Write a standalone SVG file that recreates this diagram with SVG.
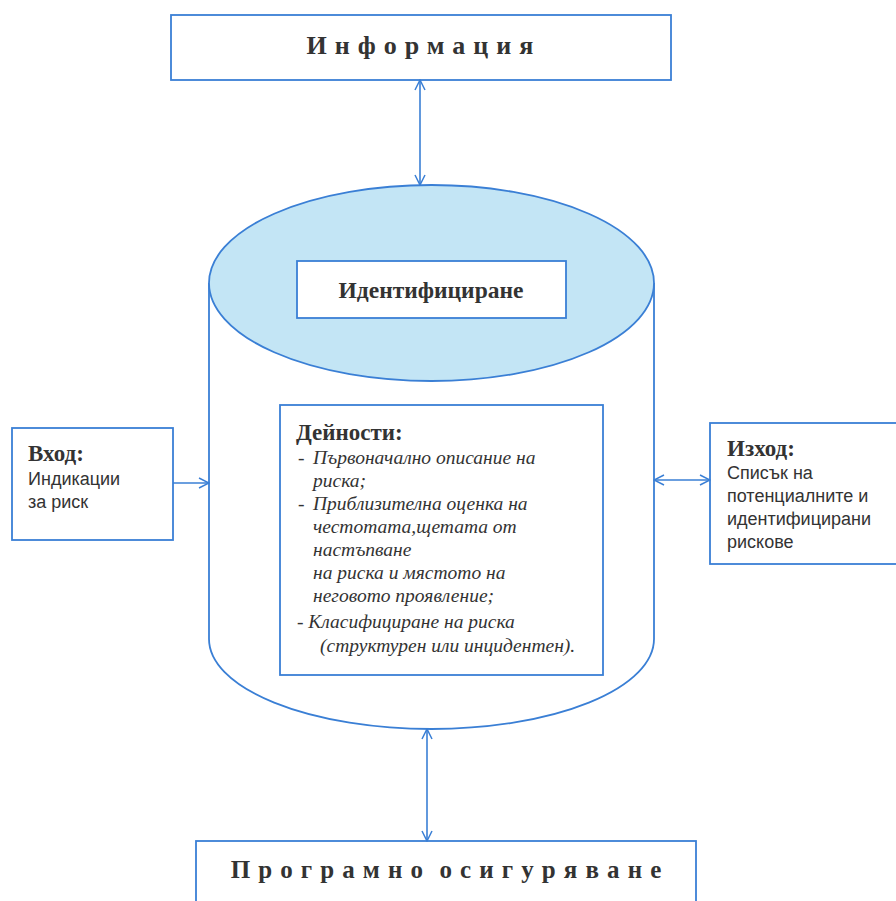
<svg xmlns="http://www.w3.org/2000/svg" width="896" height="901" viewBox="0 0 896 901">
<defs>
<marker id="ah" viewBox="0 0 12 12" refX="11" refY="6" markerWidth="12" markerHeight="12" markerUnits="userSpaceOnUse" orient="auto-start-reverse">
<path d="M1,1 L11,6 L1,11" fill="none" stroke="#3a7fd5" stroke-width="1.5"/>
</marker>
<style>
.box{fill:#fff;stroke:#3a7fd5;stroke-width:1.8}
.ln{fill:none;stroke:#3a7fd5;stroke-width:1.6}
.title{font-family:"Liberation Serif",serif;font-weight:bold;fill:#333}
.bold{font-family:"Liberation Serif",serif;font-weight:bold;fill:#333;font-size:23px}
.sans{font-family:"Liberation Sans",sans-serif;fill:#333;font-size:18px}
.it{font-family:"Liberation Serif",serif;font-style:italic;fill:#333;font-size:19.5px}
</style>
</defs>
<rect width="896" height="901" fill="#fff"/>
<g id="cylinder">
<path d="M209,283 L209,639 A222.5,90 0 0 0 654,639 L654,283" fill="#fff" stroke="#3a7fd5" stroke-width="1.8"/>
<ellipse cx="431.5" cy="283" rx="222.5" ry="98" fill="#c3e5f5" stroke="#3a7fd5" stroke-width="1.8"/>
</g>
<g id="identification">
<rect class="box" x="297" y="261" width="269" height="57"/>
<text class="title" x="431" y="298" font-size="23.5" text-anchor="middle">Идентифициране</text>
</g>
<g id="information">
<rect class="box" x="171" y="15" width="500" height="65"/>
<text class="title" x="424" y="54" font-size="26" text-anchor="middle" letter-spacing="8">Информация</text>
</g>
<g id="activities">
<rect class="box" x="280" y="405" width="323" height="270"/>
<text class="bold" x="296" y="440">Дейности:</text>
<text class="it" x="298" y="464">-</text>
<text class="it" x="313" y="464">Първоначално описание на</text>
<text class="it" x="313" y="487">риска;</text>
<text class="it" x="298" y="510">-</text>
<text class="it" x="313" y="510">Приблизителна оценка на</text>
<text class="it" x="313" y="533">честотата,щетата от</text>
<text class="it" x="313" y="556">настъпване</text>
<text class="it" x="313" y="579">на риска и мястото на</text>
<text class="it" x="313" y="602">неговото проявление;</text>
<text class="it" x="297" y="628">- Класифициране на риска</text>
<text class="it" x="320" y="652">(структурен или инцидентен).</text>
</g>
<g id="input">
<rect class="box" x="12" y="428" width="161" height="112"/>
<text class="bold" x="28" y="461">Вход:</text>
<text class="sans" x="28" y="485">Индикации</text>
<text class="sans" x="28" y="508">за риск</text>
</g>
<g id="output">
<rect class="box" x="710" y="423" width="190" height="141"/>
<text class="bold" x="727" y="456">Изход:</text>
<text class="sans" x="727" y="479">Списък на</text>
<text class="sans" x="727" y="502">потенциалните и</text>
<text class="sans" x="727" y="525">идентифицирани</text>
<text class="sans" x="727" y="548">рискове</text>
</g>
<g id="software">
<rect class="box" x="196" y="841" width="500" height="70"/>
<text class="title" x="450" y="878" font-size="25" text-anchor="middle" letter-spacing="8.1" word-spacing="-6">Програмно осигуряване</text>
</g>
<g id="connectors">
<line class="ln" x1="420" y1="80" x2="420" y2="185" marker-start="url(#ah)" marker-end="url(#ah)"/>
<line class="ln" x1="173" y1="483" x2="209" y2="483" marker-end="url(#ah)"/>
<line class="ln" x1="654" y1="480" x2="710" y2="480" marker-start="url(#ah)" marker-end="url(#ah)"/>
<line class="ln" x1="427" y1="729" x2="427" y2="841" marker-start="url(#ah)" marker-end="url(#ah)"/>
</g>
</svg>
